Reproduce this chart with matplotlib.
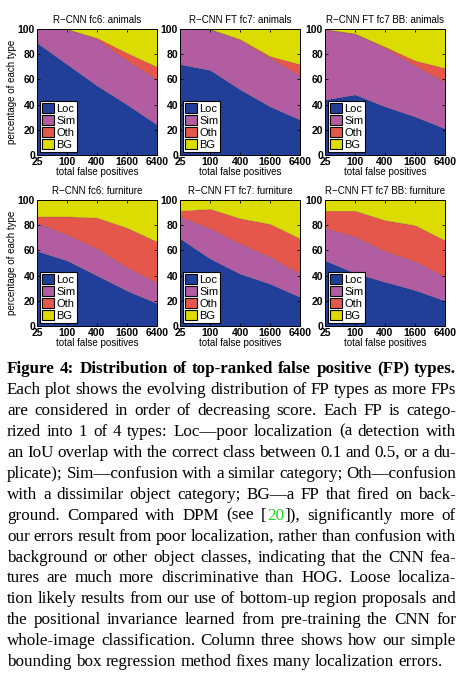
import numpy as np
import matplotlib
matplotlib.use("Agg")
import matplotlib.pyplot as plt
from matplotlib.patches import Patch

# x positions (total false positives)
fp_counts = [25, 100, 400, 1600, 6400]
tick_labels = ["25", "100", "400", "1600", "6400"]
types = ["Loc", "Sim", "Oth", "BG"]
colors = ["#213f98", "#b25ca2", "#e5574a", "#dddc00"]

# percentage of each FP type (not cumulative)
fc6_animals_loc = [89, 72, 55, 40, 24]
fc6_animals_sim = [11, 28, 37, 35, 36]
fc6_animals_oth = [0, 0, 1, 6, 10]
fc6_animals_bg = [0, 0, 7, 19, 30]

ft_animals_loc = [72, 67.5, 52, 38.5, 28]
ft_animals_sim = [28, 32.5, 39, 38.5, 35]
ft_animals_oth = [0, 0, 1, 1.5, 9]
ft_animals_bg = [0, 0, 8, 21.5, 28]

bb_animals_loc = [44, 48, 38.5, 30.5, 21]
bb_animals_sim = [55.5, 48, 46.5, 40.5, 37]
bb_animals_oth = [0.5, 0.5, 1, 4, 11]
bb_animals_bg = [0, 3.5, 14, 25, 31]

fc6_furn_loc = [59.5, 52, 40, 28, 18]
fc6_furn_sim = [22.5, 20.5, 21.5, 18.5, 16.5]
fc6_furn_oth = [5, 14.5, 24.5, 31.5, 32.5]
fc6_furn_bg = [13, 13, 14, 22, 33]

ft_furn_loc = [69.5, 53.5, 41.5, 33.5, 23]
ft_furn_sim = [17.5, 24, 24, 21.5, 18.5]
ft_furn_oth = [4.5, 15.5, 20, 26, 28]
ft_furn_bg = [8.5, 7, 14.5, 19, 30.5]

bb_furn_loc = [52, 42, 35, 28.5, 20]
bb_furn_sim = [26, 29, 24.5, 23, 19]
bb_furn_oth = [13.5, 20.5, 24.5, 28.5, 29]
bb_furn_bg = [8.5, 8.5, 16, 20, 32]

titles = ["R\u2212CNN fc6: animals", "R\u2212CNN FT fc7: animals", "R\u2212CNN FT fc7 BB: animals",
          "R\u2212CNN fc6: furniture", "R\u2212CNN FT fc7: furniture", "R\u2212CNN FT fc7 BB: furniture"]

panels = [
    (fc6_animals_loc, fc6_animals_sim, fc6_animals_oth, fc6_animals_bg),
    (ft_animals_loc, ft_animals_sim, ft_animals_oth, ft_animals_bg),
    (bb_animals_loc, bb_animals_sim, bb_animals_oth, bb_animals_bg),
    (fc6_furn_loc, fc6_furn_sim, fc6_furn_oth, fc6_furn_bg),
    (ft_furn_loc, ft_furn_sim, ft_furn_oth, ft_furn_bg),
    (bb_furn_loc, bb_furn_sim, bb_furn_oth, bb_furn_bg),
]

caption = [
    "Figure 4: Distribution of top-ranked false positive (FP) types.",
    "Each plot shows the evolving distribution of FP types as more FPs",
    "are considered in order of decreasing score.  Each FP is catego-",
    "rized into 1 of 4 types: Loc\u2014poor localization (a detection with",
    "an IoU overlap with the correct class between 0.1 and 0.5, or a du-",
    "plicate); Sim\u2014confusion with a similar category; Oth\u2014confusion",
    "with a dissimilar object category; BG\u2014a FP that fired on back-",
    "ground.  Compared with DPM (see [20]), significantly more of",
    "our errors result from poor localization, rather than confusion with",
    "background or other object classes, indicating that the CNN fea-",
    "tures are much more discriminative than HOG. Loose localiza-",
    "tion likely results from our use of bottom-up region proposals and",
    "the positional invariance learned from pre-training the CNN for",
    "whole-image classification.  Column three shows how our simple",
    "bounding box regression method fixes many localization errors.",
]

W, H = 476, 674
fig = plt.figure(figsize=(W / 100, H / 100), dpi=100)
plt.rcParams['font.family'] = ['Liberation Sans', 'DejaVu Sans']

col_x = [(37, 157), (180, 300), (325, 445)]
row_y = [(29, 155), (200, 326)]

for i, (title, data) in enumerate(zip(titles, panels)):
    r, c = divmod(i, 3)
    x0, x1 = col_x[c]
    y0, y1 = row_y[r]
    ax = fig.add_axes([x0 / W, 1 - y1 / H, (x1 - x0) / W, (y1 - y0) / H])
    polys = ax.stackplot(fp_counts, *data, colors=colors, labels=types)
    for p in polys:
        p.set_edgecolor("#00000030")
        p.set_linewidth(0.4)
    ax.set_xscale("log")
    ax.set_xlim(25, 6400)
    ax.set_ylim(0, 100)
    ax.set_xticks(fp_counts)
    ax.set_xticklabels(tick_labels)
    ax.minorticks_off()
    ax.set_yticks([0, 20, 40, 60, 80, 100])
    ax.tick_params(direction="in", length=2.5, width=0.6, top=True, right=True,
                   labelsize=7.5, pad=1.5)
    for lab in ax.get_xticklabels() + ax.get_yticklabels():
        lab.set_fontweight("bold")
    for s in ax.spines.values():
        s.set_linewidth(0.7)
    ax.set_title(title, fontsize=7, pad=4)
    if c == 0:
        ax.set_ylabel("percentage of each type", fontsize=7, labelpad=0.5)
    ax.set_xlabel("total false positives", fontsize=7, labelpad=0)
    handles = [Patch(facecolor=col, edgecolor="black", linewidth=0.8) for col in colors]
    leg = ax.legend(handles, types, loc="lower left", fontsize=8, frameon=True,
                    fancybox=False, edgecolor="black", framealpha=1,
                    handlelength=1.1, handleheight=1.0, handletextpad=0.2,
                    borderpad=0.15, labelspacing=0.12, borderaxespad=0.3)
    leg.get_frame().set_linewidth(0.8)

# caption, justified word by word
renderer = fig.canvas.get_renderer()
left, right = 7, 456
serif = ['Liberation Serif', 'DejaVu Serif']

probe = fig.text(0, 0, caption[-1], fontsize=10, family=serif)
natural = probe.get_window_extent(renderer).width
probe.remove()
fs = 10 * 433 / natural

green = "#19d819"


def segments(word):
    if "[20]" in word:
        a, b = word.split("20", 1)
        return [(a, "black"), ("20", green), (b, "black")]
    return [(word, "black")]


for n, line in enumerate(caption):
    base = 373 + n * 20.95
    weight = "bold" if n == 0 else "normal"
    words = line.split()
    widths = []
    for w in words:
        t = fig.text(0, 0, w, fontsize=fs, family=serif, weight=weight)
        widths.append(t.get_window_extent(renderer).width)
        t.remove()
    if n == len(caption) - 1:
        sp = fig.text(0, 0, "a a", fontsize=fs, family=serif)
        sa = fig.text(0, 0, "aa", fontsize=fs, family=serif)
        gap = sp.get_window_extent(renderer).width - sa.get_window_extent(renderer).width
        sp.remove()
        sa.remove()
    else:
        gap = (right - left - sum(widths)) / (len(words) - 1)
    x = left
    for w, wd in zip(words, widths):
        xs = x
        for seg, col in segments(w):
            t = fig.text(xs / W, 1 - base / H, seg, fontsize=fs, family=serif,
                         weight=weight, color=col, va="baseline", ha="left")
            xs += t.get_window_extent(renderer).width
        x += wd + gap

fig.savefig("out.png", dpi=100, facecolor="white")
